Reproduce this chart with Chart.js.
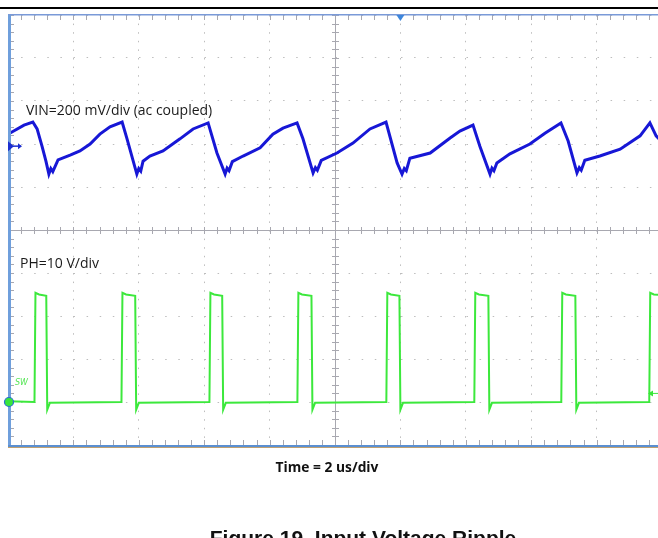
<!DOCTYPE html>
<html>
<head>
<meta charset="utf-8">
<script src="https://cdn.jsdelivr.net/npm/chart.js@4.4.1/dist/chart.umd.min.js"></script>
<style>
  html, body { margin: 0; padding: 0; background: #fff; overflow: hidden; }
  #wrap { position: absolute; left: 0; top: 0; width: 680px; height: 538px; }
</style>
</head>
<body>
<div id="wrap"><canvas id="scope" width="680" height="538"></canvas></div>
<script>
// time axis, us (10 div x 2 us)
const vinTime = [0, 0.12, 0.49, 0.76, 0.89, 1.04, 1.16, 1.25, 1.31, 1.37, 1.53, 1.90, 2.20, 2.51, 2.81, 3.12,
  3.49, 3.64, 3.94, 4.00, 4.06, 4.13, 4.34, 4.74, 5.26, 5.66, 6.12, 6.39, 6.64, 6.70, 6.76, 6.86, 7.19, 7.71, 8.10,
  8.41, 8.84, 9.02, 9.33, 9.40, 9.46, 9.58, 10.06, 10.55, 11.07, 11.56, 11.90, 12.05, 12.12, 12.18, 12.29, 12.91, 13.52, 13.82,
  14.22, 14.43, 14.74, 14.80, 14.86, 14.95, 15.35, 15.96, 16.42, 16.91, 17.13, 17.40, 17.47, 17.53, 17.64, 18.10, 18.72, 19.33, 19.63,
  19.82, 20];
// input ripple, mV (ac coupled)
const vinMv = [56, 66, 98, 112, 80, 0, -70, -130, -104, -118, -64, -42, -22, 10, 56, 90,
  112, 34, -130, -104, -116, -70, -46, -22, 34, 80, 108, -32, -130, -102, -114, -72, -46, -8, 56,
  84, 108, 34, -124, -100, -112, -66, -32, 14, 80, 112, -78, -130, -104, -114, -56, -32, 38, 70,
  98, 0, -130, -102, -114, -78, -36, 10, 60, 108, 24, -124, -100, -112, -66, -46, -14, 48, 108,
  48, 20];

const phTime = [0, 0.81, 0.84, 0.95, 1.17, 1.20, 1.28, 3.47, 3.50, 3.61, 3.89, 3.92, 4.00,
  6.16, 6.19, 6.30, 6.55, 6.58, 6.66, 8.85, 8.88, 8.99, 9.28, 9.31, 9.39,
  11.57, 11.60, 11.71, 11.97, 12.00, 12.08, 14.26, 14.29, 14.40, 14.69, 14.72, 14.80,
  16.92, 16.95, 17.06, 17.35, 17.38, 17.46, 19.61, 19.64, 19.75, 20];
// switch node, V
const phVolts = [0.2, 0, 25.4, 25.0, 24.7, -1.8, -0.2, 0, 25.4, 25.0, 24.7, -1.8, -0.2,
  0, 25.4, 25.0, 24.7, -1.8, -0.2, 0, 25.4, 25.0, 24.7, -1.8, -0.2,
  0, 25.4, 25.0, 24.7, -1.8, -0.2, 0, 25.4, 25.0, 24.7, -1.8, -0.2,
  0, 25.4, 25.0, 24.7, -1.8, -0.2, 0, 25.4, 25.0, 24.9];

// channel settings (per div) and ground marker position (div)
const vinScale = 200, vinOffset = 1.95;
const phScale = 10, phOffset = -4;

let vinPts = vinTime.map((t, i) => ({ x: t, y: vinOffset + vinMv[i] / vinScale }));
let phPts = phTime.map((t, i) => ({ x: t, y: phOffset + phVolts[i] / phScale }));

let frame = {
  id: 'frame',
  beforeDatasetsDraw(chart) {
    let { ctx, chartArea: a, scales: { x, y } } = chart;
    let x0 = x.getPixelForValue(10), y0 = y.getPixelForValue(0);
    ctx.save();
    ctx.strokeStyle = '#a8a8b0';
    ctx.lineWidth = 1;
    ctx.beginPath();
    ctx.moveTo(a.left, y0 + 0.5); ctx.lineTo(a.right, y0 + 0.5);
    ctx.moveTo(x0 + 0.5, a.top); ctx.lineTo(x0 + 0.5, a.bottom);
    for (let t = 0; t <= 20.001; t += 0.4) {
      let px = Math.round(x.getPixelForValue(t)) + 0.5;
      ctx.moveTo(px, y0 - 3); ctx.lineTo(px, y0 + 4);
      ctx.moveTo(px, a.top); ctx.lineTo(px, a.top + 5);
      ctx.moveTo(px, a.bottom); ctx.lineTo(px, a.bottom - 5);
    }
    for (let d = -5; d <= 5.001; d += 0.2) {
      let py = Math.round(y.getPixelForValue(d)) + 0.5;
      ctx.moveTo(x0 - 3, py); ctx.lineTo(x0 + 4, py);
      ctx.moveTo(a.left, py); ctx.lineTo(a.left + 6, py);
    }
    ctx.stroke();
    ctx.restore();
  },
  afterDraw(chart) {
    let { ctx, chartArea: a, scales: { x, y } } = chart;
    ctx.save();
    // page rule above the figure
    ctx.fillStyle = '#000';
    ctx.fillRect(0, 7, 680, 2);
    // borders
    ctx.fillStyle = '#7a9ad8';
    ctx.fillRect(a.left, a.top - 1, a.right - a.left, 1.5);
    ctx.fillStyle = '#6f9fdc';
    ctx.fillRect(a.left, a.top, 3, a.bottom - a.top + 2);
    ctx.fillStyle = '#5b8fd0';
    ctx.fillRect(a.left, a.bottom, a.right - a.left, 2);
    ctx.fillStyle = '#c0a070';
    ctx.fillRect(a.left, a.bottom + 2, a.right - a.left, 1);

    // trigger marker
    let tx = x.getPixelForValue(12);
    ctx.fillStyle = '#3d86dc';
    ctx.beginPath();
    ctx.moveTo(tx - 4, a.top); ctx.lineTo(tx + 4, a.top); ctx.lineTo(tx, a.top + 6);
    ctx.closePath(); ctx.fill();

    // VIN ground marker
    let vy = y.getPixelForValue(vinOffset);
    ctx.fillStyle = '#1c2fd0';
    ctx.beginPath();
    ctx.moveTo(a.left, vy - 5); ctx.lineTo(a.left + 6, vy); ctx.lineTo(a.left, vy + 5);
    ctx.closePath(); ctx.fill();
    ctx.strokeStyle = '#1c2fd0'; ctx.lineWidth = 1.5;
    ctx.beginPath(); ctx.moveTo(a.left + 5, vy); ctx.lineTo(a.left + 13, vy); ctx.stroke();
    ctx.beginPath();
    ctx.moveTo(a.left + 10, vy - 3); ctx.lineTo(a.left + 14, vy); ctx.lineTo(a.left + 10, vy + 3);
    ctx.closePath(); ctx.fillStyle = '#1c2fd0'; ctx.fill();

    // PH ground marker
    let py = y.getPixelForValue(phOffset);
    ctx.fillStyle = '#39e639';
    ctx.strokeStyle = '#2a6fd0';
    ctx.lineWidth = 1.2;
    ctx.beginPath(); ctx.arc(a.left + 1, py, 4.5, 0, Math.PI * 2); ctx.fill(); ctx.stroke();
    ctx.font = 'italic 8px "DejaVu Sans"';
    ctx.fillStyle = '#55e655';
    ctx.fillText('SW', a.left + 7, py - 17);

    // PH level arrow on the right
    let ry = y.getPixelForValue(phOffset + 0.2);
    ctx.fillStyle = '#39e639';
    ctx.beginPath();
    ctx.moveTo(648, ry); ctx.lineTo(653, ry - 3); ctx.lineTo(653, ry + 3);
    ctx.closePath(); ctx.fill();
    ctx.strokeStyle = '#39e639'; ctx.lineWidth = 1;
    ctx.beginPath(); ctx.moveTo(652, ry); ctx.lineTo(660, ry); ctx.stroke();

    // channel labels
    ctx.fillStyle = '#1a1a1a';
    ctx.font = '14px "Open Sans"';
    ctx.textAlign = 'left';
    ctx.fillText('VIN=200 mV/div (ac coupled)', 26, 115);
    ctx.fillText('PH=10 V/div', 20, 268);

    // captions
    ctx.textAlign = 'center';
    ctx.fillStyle = '#111';
    ctx.font = 'bold 13.8px "Open Sans"';
    ctx.fillText('Time = 2 us/div', 327, 472);
    ctx.font = 'bold 21px "Liberation Sans"';
    ctx.fillText('Figure 19. Input Voltage Ripple', 363, 545);
    ctx.restore();
  }
};

new Chart(document.getElementById('scope'), {
  type: 'scatter',
  data: {
    datasets: [
      {
        label: 'PH',
        data: phPts,
        showLine: true,
        borderColor: '#3ce83c',
        borderWidth: 2,
        pointRadius: 0,
        tension: 0
      },
      {
        label: 'VIN',
        data: vinPts,
        showLine: true,
        borderColor: '#1717d6',
        borderWidth: 3,
        pointRadius: 0,
        tension: 0
      }
    ]
  },
  options: {
    responsive: false,
    animation: false,
    devicePixelRatio: 1,
    layout: { padding: { left: 8, top: 15, right: 18, bottom: 93 } },
    plugins: { legend: { display: false }, tooltip: { enabled: false } },
    scales: {
      x: {
        type: 'linear', min: 0, max: 20,
        ticks: { display: false, stepSize: 2 },
        grid: { color: '#bdbdbd', lineWidth: 1, drawTicks: false },
        border: { display: false, dash: [1.5, 7.1] }
      },
      y: {
        type: 'linear', min: -5, max: 5,
        ticks: { display: false, stepSize: 1 },
        grid: { color: '#bdbdbd', lineWidth: 1, drawTicks: false },
        border: { display: false, dash: [1.5, 11.6] }
      }
    }
  },
  plugins: [frame]
});
</script>
</body>
</html>
